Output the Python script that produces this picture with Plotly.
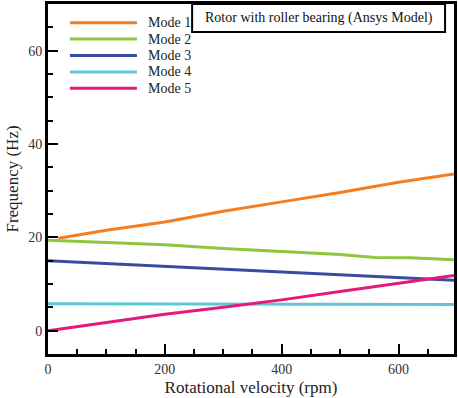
import plotly.graph_objects as go

# ---- data ----
mode_names = ["Mode 1", "Mode 2", "Mode 3", "Mode 4", "Mode 5"]
mode_colors = ["#F47D20", "#8DC63F", "#3A4A9E", "#5CC8D6", "#E5197A"]

mode1_rpm = [18, 100, 200, 300, 400, 500, 600, 695]
mode1_hz = [19.8, 21.5, 23.3, 25.6, 27.6, 29.6, 31.8, 33.6]

mode2_rpm = [0, 100, 200, 300, 400, 500, 560, 620, 695]
mode2_hz = [19.4, 18.9, 18.4, 17.6, 16.9, 16.3, 15.7, 15.6, 15.2]

mode3_rpm = [0, 100, 200, 300, 400, 500, 600, 695]
mode3_hz = [15.0, 14.4, 13.8, 13.2, 12.6, 11.9, 11.3, 10.8]

mode4_rpm = [0, 200, 470, 480, 695]
mode4_hz = [5.75, 5.75, 5.75, 5.6, 5.6]

mode5_rpm = [0, 100, 200, 300, 400, 500, 600, 695]
mode5_hz = [0.0, 1.8, 3.5, 5.0, 6.6, 8.4, 10.2, 11.8]

x_tickvals = [0, 200, 400, 600]
y_tickvals = [0, 20, 40, 60]
x_title = "Rotational velocity (rpm)"
y_title = "Frequency (Hz)"
box_text = "Rotor with roller bearing (Ansys Model)"

series = [
    (mode1_rpm, mode1_hz),
    (mode2_rpm, mode2_hz),
    (mode3_rpm, mode3_hz),
    (mode4_rpm, mode4_hz),
    (mode5_rpm, mode5_hz),
]

FONT = "Times New Roman, DejaVu Serif, serif"

fig = go.Figure()
for (xs, ys), name, col in zip(series, mode_names, mode_colors):
    fig.add_trace(go.Scatter(x=xs, y=ys, mode="lines", name=name,
                             line=dict(color=col, width=3), showlegend=False))

shapes = []
annotations = []
# custom legend (long line samples)
for i, (name, col) in enumerate(zip(mode_names, mode_colors)):
    yy = 0.9466 - i * 0.0469
    shapes.append(dict(type="line", xref="paper", yref="paper",
                       x0=0.054, x1=0.219, y0=yy, y1=yy,
                       line=dict(color=col, width=3)))
    annotations.append(dict(xref="paper", yref="paper", x=0.241, y=yy,
                            text=name, showarrow=False, xanchor="left",
                            yanchor="middle",
                            font=dict(family=FONT, size=14, color="#222")))

# boxed label
shapes.append(dict(type="rect", xref="paper", yref="paper",
                   x0=0.355, x1=0.978, y0=0.92, y1=1.0,
                   line=dict(color="black", width=2), fillcolor="white"))
annotations.append(dict(xref="paper", yref="paper", x=0.6665, y=0.96,
                        text=box_text, showarrow=False, xanchor="center",
                        yanchor="middle",
                        font=dict(family=FONT, size=14, color="#111")))

axis_common = dict(
    showline=True, linecolor="black", linewidth=3, mirror=True,
    ticks="inside", ticklen=10, tickwidth=2, tickcolor="black",
    showgrid=False, zeroline=False, automargin=False,
    tickfont=dict(family=FONT, size=14, color="#333"),
)

fig.update_layout(
    width=458, height=398,
    margin=dict(l=48, r=4, t=4, b=44),
    paper_bgcolor="white", plot_bgcolor="white",
    showlegend=False,
    font=dict(family=FONT),
    shapes=shapes, annotations=annotations,
    xaxis=dict(range=[0, 695], tickvals=x_tickvals,
               minor=dict(dtick=50, tick0=0, ticks="inside", ticklen=5,
                          tickwidth=2, tickcolor="black", showgrid=False),
               title=dict(text=x_title, font=dict(family=FONT, size=17, color="#222"),
                          standoff=6),
               **axis_common),
    yaxis=dict(range=[-5, 70], tickvals=y_tickvals,
               minor=dict(dtick=5, tick0=0, ticks="inside", ticklen=5,
                          tickwidth=2, tickcolor="black", showgrid=False),
               title=dict(text=y_title, font=dict(family=FONT, size=17, color="#222"),
                          standoff=6),
               **axis_common),
)

fig.write_html("out.html", config={"displayModeBar": False},
               post_script="document.body.style.margin='0';")
